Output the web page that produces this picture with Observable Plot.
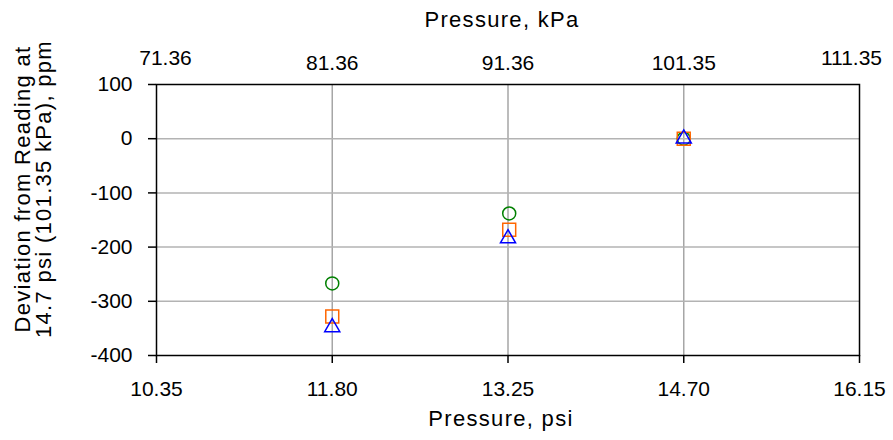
<!DOCTYPE html>
<html>
<head>
<meta charset="utf-8">
<script src="https://cdn.jsdelivr.net/npm/d3@7"></script>
<script src="https://cdn.jsdelivr.net/npm/@observablehq/plot@0.6"></script>
<style>
  html, body { margin: 0; padding: 0; background: #fff; }
  #chart { width: 893px; height: 440px; }
</style>
</head>
<body>
<div id="chart"></div>
<script>
// ---- Data ----
const psiTicks = [10.35, 11.80, 13.25, 14.70, 16.15];
const kpaLabels = ["71.36", "81.36", "91.36", "101.35", "111.35"];
const gridPsi = [11.80, 13.25, 14.70];
const yTicks = [100, 0, -100, -200, -300, -400];
const yGrid = [0, -100, -200, -300];

const circlePsi = [11.80, 13.26, 14.70];
const circleDev = [-267, -138, 0];
const squarePsi = [11.80, 13.26, 14.70];
const squareDev = [-328, -168, 0];
const trianglePsi = [11.80, 13.25, 14.70];
const triangleDev = [-348, -184, 0];

const xTitleBottom = "Pressure, psi";
const xTitleTop = "Pressure, kPa";
const yTitle = "Deviation from Reading at\n14.7 psi (101.35 kPa), ppm";

// ---- Tables built from the arrays ----
const toRows = (xs, ys) => xs.map((x, i) => ({x, y: ys[i]}));
const circles = toRows(circlePsi, circleDev);
const squares = toRows(squarePsi, squareDev);
const triangles = toRows(trianglePsi, triangleDev);
const topLabels = psiTicks.map((p, i) => ({x: p, label: kpaLabels[i], outer: i === 0 || i === psiTicks.length - 1}));
const innerTop = topLabels.filter(d => !d.outer);
const firstTop = [topLabels[0]];
const lastTop = [topLabels[topLabels.length - 1]];

const FONT = 21;
const TITLE_FONT = 22;
const T = {fontSize: FONT, lineAnchor: "middle", textAnchor: "middle", fill: "black"};
const TT = {...T, fontSize: TITLE_FONT};

const chart = Plot.plot({
  width: 893,
  height: 440,
  marginLeft: 156,
  marginRight: 34,
  marginTop: 84,
  marginBottom: 85,
  style: {fontFamily: "'Liberation Sans', Arial, sans-serif", fontSize: FONT + "px", color: "black", background: "white"},
  x: {domain: [10.35, 16.15]},
  y: {domain: [-400, 100]},
  marks: [
    Plot.gridX(gridPsi, {stroke: "#a6a6a6", strokeOpacity: 1, strokeWidth: 1.5}),
    Plot.gridY(yGrid, {stroke: "#b3b3b3", strokeOpacity: 1, strokeWidth: 1.5}),
    Plot.frame({stroke: "black", strokeWidth: 1.5}),
    Plot.axisY({anchor: "left", ticks: yTicks, tickSize: 8, tickPadding: 16, tickFormat: d => String(d),
      fontSize: FONT, strokeWidth: 1.5, label: null}),
    Plot.axisX({anchor: "bottom", ticks: psiTicks, tickSize: 8, tickPadding: 18, tickFormat: d => d.toFixed(2),
      fontSize: FONT, strokeWidth: 1.5, label: null}),
    // top kPa labels
    Plot.text(innerTop, {...T, x: "x", text: "label", frameAnchor: "top", dy: -21}),
    Plot.text(firstTop, {...T, x: "x", text: "label", frameAnchor: "top", dy: -26, dx: 9}),
    Plot.text(lastTop, {...T, x: "x", text: "label", frameAnchor: "top", dy: -26, dx: -8}),
    // axis titles
    Plot.text([xTitleTop], {...TT, frameAnchor: "top", dy: -65, dx: -6}),
    Plot.text([xTitleBottom], {...TT, frameAnchor: "bottom", dy: 63, dx: -7}),
    Plot.text([yTitle], {...TT, frameAnchor: "left", dx: -122.5, dy: -31, rotate: -90, lineHeight: 0.96}),
    // data
    Plot.dot(circles, {x: "x", y: "y", symbol: "circle", r: 6.5, stroke: "#008000", strokeWidth: 1.5, fill: "none"}),
    Plot.dot(squares, {x: "x", y: "y", symbol: "square", r: 7.3, stroke: "#ff6600", strokeWidth: 1.5, fill: "none"}),
    Plot.dot(triangles, {x: "x", y: "y", symbol: "triangle", r: 5.6, stroke: "#0000ff", strokeWidth: 1.5, fill: "none"})
  ]
});
// the reference's titles are set wider than its numerals
d3.select(chart).selectAll("text")
  .filter(function () { return /^(Pressure|Deviation)/.test(this.textContent); })
  .style("letter-spacing", "1.3px");
document.getElementById("chart").appendChild(chart);
</script>
</body>
</html>
